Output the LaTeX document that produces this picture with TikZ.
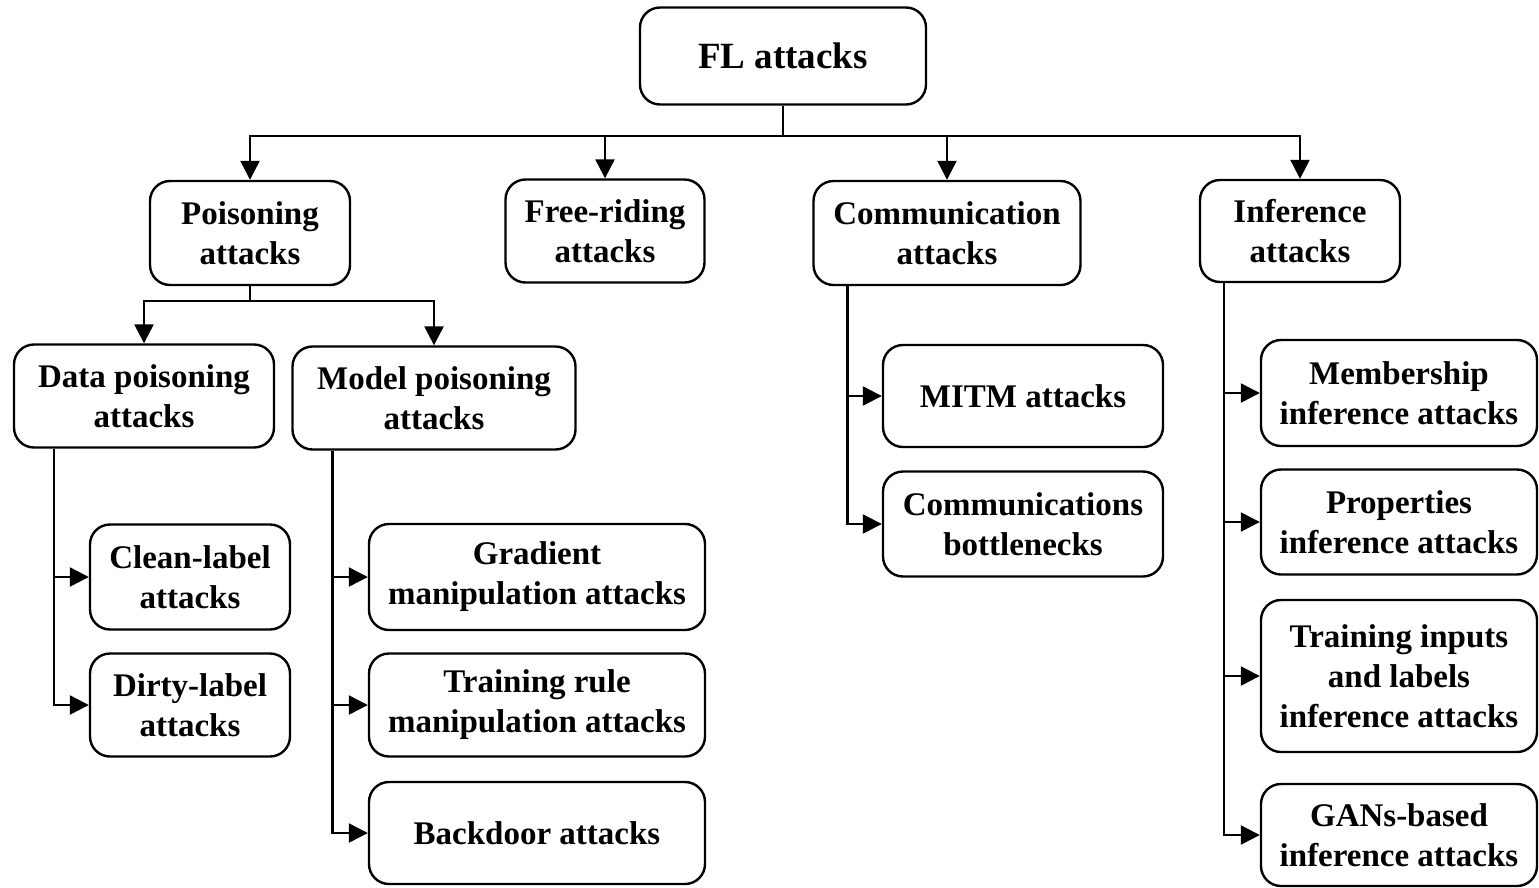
\documentclass[tikz,border=0pt]{standalone}
\usepackage{fontspec}
\setmainfont{Liberation Serif}
\usetikzlibrary{arrows.meta}

\begin{document}
\begin{tikzpicture}[x=1pt,y=-1pt,
  box/.style={draw, line width=2.4pt, rounded corners=20pt, align=center,
              inner sep=0pt, font=\fontsize{33}{40}\selectfont\bfseries},
  link/.style={line width=2.4pt},
  arr/.style={line width=2.4pt, -{Triangle[length=19pt,width=19pt]}}]

\useasboundingbox (0,0) rectangle (1539,887);

% root
\node[box, minimum width=286pt, minimum height=97pt,
      font=\fontsize{37}{44}\selectfont\bfseries] (fl) at (783,56) {FL attacks};

% first level
\node[box, minimum width=200pt, minimum height=104pt] (pois) at (250,233) {Poisoning\\attacks};
\node[box, minimum width=199pt, minimum height=103pt] (free) at (605,231) {Free-riding\\attacks};
\node[box, minimum width=267pt, minimum height=104pt] (comm) at (947,233) {Communication\\attacks};
\node[box, minimum width=200pt, minimum height=102pt] (infer) at (1300,231) {Inference\\attacks};

% poisoning branch
\node[box, minimum width=260pt, minimum height=103pt] (dpois) at (144,396) {Data poisoning\\attacks};
\node[box, minimum width=283pt, minimum height=103pt] (mpois) at (434,398) {Model poisoning\\attacks};

\node[box, minimum width=200pt, minimum height=105pt] (clean) at (190,577) {Clean-label\\attacks};
\node[box, minimum width=200pt, minimum height=103pt] (dirty) at (190,705) {Dirty-label\\attacks};

\node[box, minimum width=336pt, minimum height=106pt] (grad) at (537,577) {Gradient\\manipulation attacks};
\node[box, minimum width=336pt, minimum height=103pt] (rule) at (537,705) {Training rule\\manipulation attacks};
\node[box, minimum width=336pt, minimum height=102pt] (back) at (537,833) {Backdoor attacks};

% communication branch
\node[box, minimum width=280pt, minimum height=102pt] (mitm) at (1023,396) {MITM attacks};
\node[box, minimum width=280pt, minimum height=105pt] (bott) at (1023,524) {Communications\\bottlenecks};

% inference branch
\node[box, minimum width=276pt, minimum height=106pt] (memb) at (1399,393) {Membership\\inference attacks};
\node[box, minimum width=276pt, minimum height=105pt] (prop) at (1399,522) {Properties\\inference attacks};
\node[box, minimum width=276pt, minimum height=152pt] (tinp) at (1399,676) {Training inputs\\and labels\\inference attacks};
\node[box, minimum width=276pt, minimum height=102pt] (gans) at (1399,835) {GANs-based\\inference attacks};

% root to first level
\draw[link] (fl.south) -- ++(0,30) coordinate (bus);
\draw[arr] (bus) -| (pois.north);
\draw[arr] (bus) -| (free.north);
\draw[arr] (bus) -| (comm.north);
\draw[arr] (bus) -| (infer.north);

% poisoning to data/model poisoning
\draw[link] (pois.south) -- ++(0,15) coordinate (pbus);
\draw[arr] (pbus) -| (dpois.north);
\draw[arr] (pbus) -| (mpois.north);

% data poisoning leaves
\draw[arr] ([xshift=41pt]dpois.south west) |- (clean.west);
\draw[arr] ([xshift=41pt]dpois.south west) |- (dirty.west);

% model poisoning leaves
\draw[arr] ([xshift=41pt]mpois.south west) |- (grad.west);
\draw[arr] ([xshift=41pt]mpois.south west) |- (rule.west);
\draw[arr] ([xshift=41pt]mpois.south west) |- (back.west);

% communication leaves
\draw[arr] ([xshift=35pt]comm.south west) |- (mitm.west);
\draw[arr] ([xshift=35pt]comm.south west) |- (bott.west);

% inference leaves
\draw[arr] ([xshift=25pt]infer.south west) |- (memb.west);
\draw[arr] ([xshift=25pt]infer.south west) |- (prop.west);
\draw[arr] ([xshift=25pt]infer.south west) |- (tinp.west);
\draw[arr] ([xshift=25pt]infer.south west) |- (gans.west);

\end{tikzpicture}
\end{document}
